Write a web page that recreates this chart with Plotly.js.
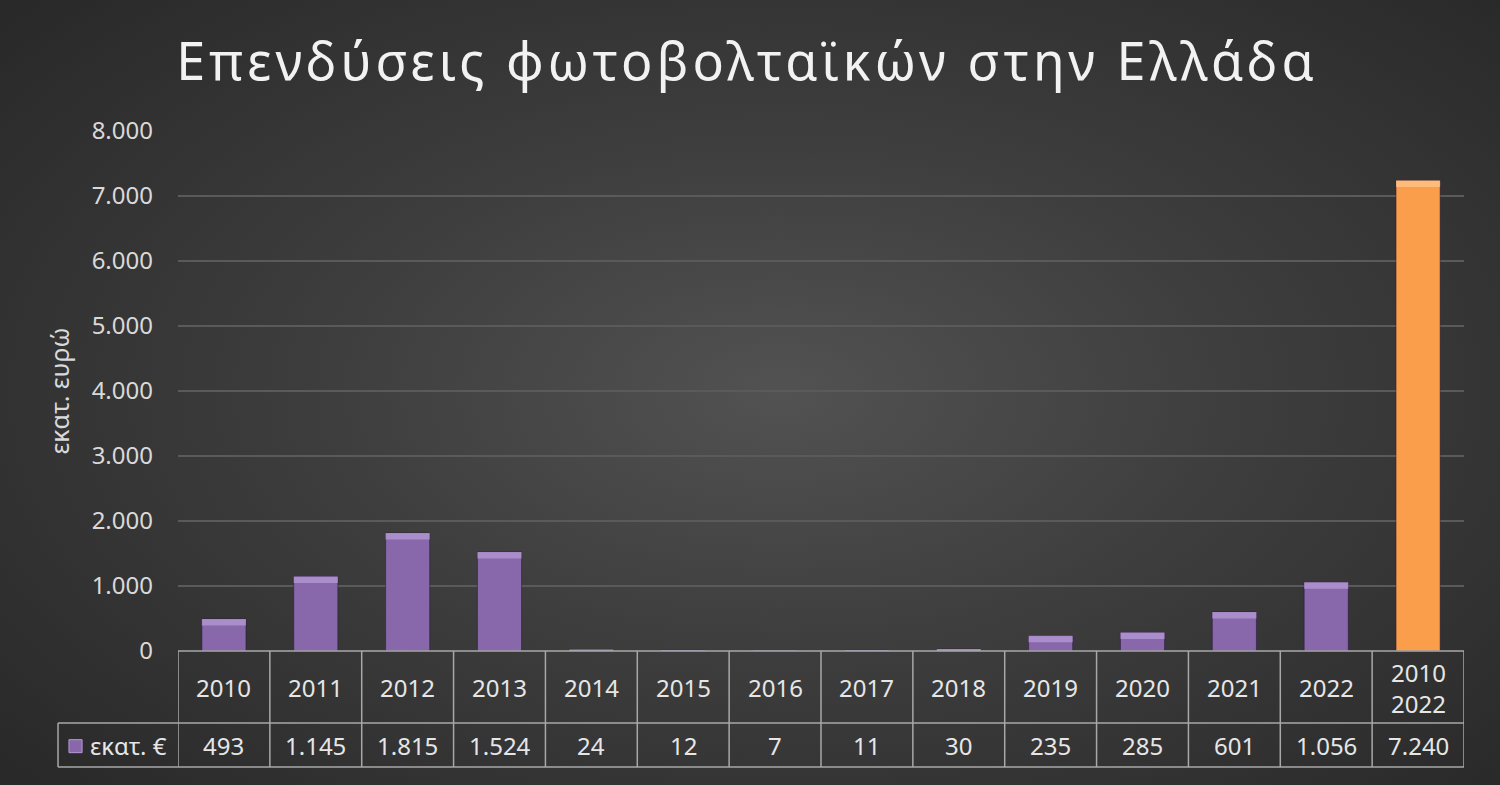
<!DOCTYPE html>
<html>
<head>
<meta charset="utf-8">
<script src="https://cdn.plot.ly/plotly-3.0.1.min.js"></script>
<style>
html,body{margin:0;padding:0;width:1500px;height:785px;overflow:hidden;
background:radial-gradient(ellipse 70% 75% at 52% 50%, #525252 0%, #3d3d3d 45%, #282828 100%);}
#chart{width:1500px;height:785px;}
</style>
</head>
<body>
<div id="chart"></div>
<script>
const categories = ['2010','2011','2012','2013','2014','2015','2016','2017','2018','2019','2020','2021','2022','2010<br>2022'];
const values = [493, 1145, 1815, 1524, 24, 12, 7, 11, 30, 235, 285, 601, 1056, 7240];
const seriesName = 'εκατ. €';
const titleText = 'Επενδύσεις φωτοβολταϊκών στην Ελλάδα';
const yTitle = 'εκατ. ευρώ';
const yTickVals = [0,1000,2000,3000,4000,5000,6000,7000,8000];

const purple = '#8867aa', orange = '#fb9e4c';
const xs = categories.map((c,i)=>i);
const colors = values.map((v,i)=> i === values.length-1 ? orange : purple);
const capColors = values.map((v,i)=> i === values.length-1 ? '#ffc48a' : '#b69ad6');
const fmt = v => String(v).replace(/\B(?=(\d{3})+(?!\d))/g, '.');

const FONT = "'Noto Sans', 'DejaVu Sans', sans-serif";
const txt = '#e6e6e6';
const lineCol = '#a8a8a8';

// paper coords for table rows (y=0 is zero line)
const rowHeaderMid = -0.071, rowSplit = -0.1385, rowBottom = -0.2231, rowValueMid = -0.181;
const legendLeft = -0.0933;

const cap = 100;
const traces = [
  {type:'bar', x:xs, y:values, width:0.48, marker:{color:colors, line:{color:'rgba(40,20,60,0.5)', width:1}},
   hoverinfo:'skip', showlegend:false},
  {type:'bar', x:xs, y:values.map(v=>Math.min(v,cap)), base:values.map(v=>v-Math.min(v,cap)), width:0.48,
   marker:{color:capColors, line:{width:0}}, opacity:0.75, hoverinfo:'skip', showlegend:false}
];

const shapes = [];
const annotations = [];
shapes.push({type:'line', xref:'paper', yref:'paper', x0:0, x1:1, y0:0, y1:0, line:{color:lineCol, width:1.5}});
shapes.push({type:'line', xref:'paper', yref:'paper', x0:legendLeft, x1:1, y0:rowSplit, y1:rowSplit, line:{color:lineCol, width:1.5}});
shapes.push({type:'line', xref:'paper', yref:'paper', x0:legendLeft, x1:1, y0:rowBottom, y1:rowBottom, line:{color:lineCol, width:1.5}});
shapes.push({type:'line', xref:'paper', yref:'paper', x0:legendLeft, x1:legendLeft, y0:rowSplit, y1:rowBottom, line:{color:lineCol, width:1.5}});
for (let i=0;i<=categories.length;i++){
  shapes.push({type:'line', xref:'x', yref:'paper', x0:i-0.5, x1:i-0.5, y0:0, y1:rowBottom, line:{color:lineCol, width:1.5}});
}
categories.forEach((c,i)=>{
  annotations.push({xref:'x', yref:'paper', x:i, y:rowHeaderMid, text:c, showarrow:false,
    font:{family:FONT, size:24, color:txt}, xanchor:'center', yanchor:'middle'});
  annotations.push({xref:'x', yref:'paper', x:i, y:rowValueMid, text:fmt(values[i]), showarrow:false,
    font:{family:FONT, size:24, color:txt}, xanchor:'center', yanchor:'middle'});
});
shapes.push({type:'rect', xref:'paper', yref:'paper', x0:-0.0848, x1:-0.0746, y0:-0.1705, y1:-0.1955,
  fillcolor:purple, line:{color:'#b69ad6', width:1}});
annotations.push({xref:'paper', yref:'paper', x:-0.0700, y:rowValueMid, text:seriesName, showarrow:false,
  font:{family:FONT, size:24, color:txt}, xanchor:'left', yanchor:'middle'});

const layout = {
  width:1500, height:785,
  paper_bgcolor:'rgba(0,0,0,0)', plot_bgcolor:'rgba(0,0,0,0)',
  margin:{l:178, r:36, t:131, b:134},
  separators:',.',
  barmode:'overlay',
  title:{text:'<span style="letter-spacing:4px">'+titleText+'</span>', x:0.498, xanchor:'center', y:0.921, yanchor:'middle',
    font:{family:FONT, size:52, color:'#f2f2f2'}},
  xaxis:{range:[-0.5, categories.length-0.5], showticklabels:false, showgrid:false, zeroline:false,
    showline:false, ticks:'', fixedrange:true},
  yaxis:{range:[0,8000], tickvals:yTickVals, tickformat:',d', showgrid:true, gridcolor:'#5a5a5a', gridwidth:1.5,
    zeroline:false, showline:false, ticks:'', ticklabelstandoff:24,
    tickfont:{family:FONT, size:24, color:'#d9d9d9'},
    title:{text:yTitle, standoff:14, font:{family:FONT, size:25, color:'#d9d9d9'}}},
  shapes:shapes, annotations:annotations, showlegend:false
};
Plotly.newPlot('chart', traces, layout, {displayModeBar:false, staticPlot:true});
</script>
</body>
</html>
